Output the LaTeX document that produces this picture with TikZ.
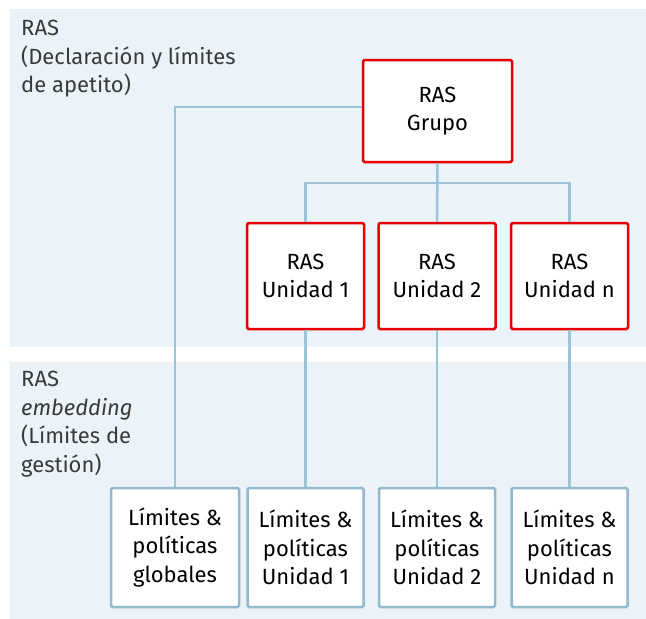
\documentclass[tikz,border=0pt]{standalone}
\usepackage{fontspec}
\setmainfont{Fira Sans}
\definecolor{bgc}{HTML}{EBF3F8}
\definecolor{conc}{HTML}{9CC4D6}
\definecolor{redc}{HTML}{E60000}
\definecolor{bluec}{HTML}{92B9CC}
\definecolor{txtc}{HTML}{3A3A3A}
\begin{document}
\begin{tikzpicture}[x=1pt,y=-1pt,
  redbox/.style={draw=redc,line width=2.5pt,fill=white,rounded corners=1.5pt,align=center,inner sep=0pt,font=\fontsize{22}{28.5}\selectfont},
  bluebox/.style={draw=bluec,line width=2.5pt,fill=white,rounded corners=1.5pt,align=center,inner sep=0pt,font=\fontsize{22}{28.5}\selectfont},
  conn/.style={draw=conc,line width=2.5pt},
  lbl/.style={anchor=north west,align=left,text=txtc,inner sep=0pt,font=\fontsize{22}{28.5}\selectfont}]
\useasboundingbox (0,0) rectangle (646,619);
\fill[bgc] (10,9) rectangle (646,347);
\fill[bgc] (10,362) rectangle (646,619);
\node[lbl] (lt) at (21,20) {RAS\\(Declaración y límites\\de apetito)};
\node[lbl] (lb) at (21,371) {RAS\\\textit{embedding}\\(Límites de\\gestión)};
% connectors first (behind boxes)
\coordinate (g) at (437.5,111);
\coordinate (u1c) at (305.5,276);
\coordinate (u2c) at (437,276);
\coordinate (unc) at (569.5,276);
\node[redbox,minimum width=149pt,minimum height=102pt] (grupo) at (437.5,111) {RAS\\Grupo};
\node[redbox,minimum width=117pt,minimum height=106pt] (u1) at (305.5,276) {RAS\\Unidad 1};
\node[redbox,minimum width=117pt,minimum height=106pt] (u2) at (437,276) {RAS\\Unidad 2};
\node[redbox,minimum width=117pt,minimum height=106pt] (un) at (569.5,276) {RAS\\Unidad n};
\node[bluebox,minimum width=128pt,minimum height=119pt] (lg) at (175,547.5) {Límites \&\\políticas\\globales};
\node[bluebox,minimum width=116pt,minimum height=119pt] (l1) at (305.5,547.5) {Límites \&\\políticas\\Unidad 1};
\node[bluebox,minimum width=116pt,minimum height=119pt] (l2) at (437,547.5) {Límites \&\\políticas\\Unidad 2};
\node[bluebox,minimum width=116pt,minimum height=119pt] (ln) at (569.5,547.5) {Límites \&\\políticas\\Unidad n};
\begin{scope}[on background layer/.try]
\end{scope}
\draw[conn] (grupo.south) -- (u2.north);
\draw[conn] (u1.north) -- (u1.north |- 0,183) -- (un.north |- 0,183) -- (un.north);
\draw[conn] (grupo.west |- 0,107) -| (lg.north);
\draw[conn] (u1.south) -- (l1.north);
\draw[conn] (u2.south) -- (l2.north);
\draw[conn] (un.south) -- (ln.north);
\end{tikzpicture}
\end{document}
